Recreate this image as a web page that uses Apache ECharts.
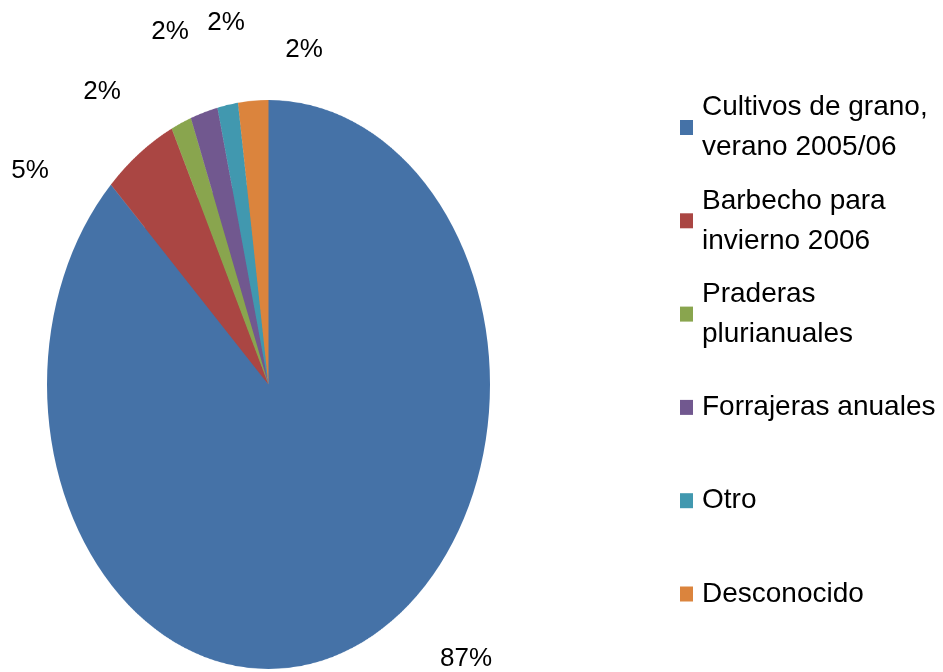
<!DOCTYPE html>
<html>
<head>
<meta charset="utf-8">
<script src="https://cdn.jsdelivr.net/npm/echarts@6/dist/echarts.min.js"></script>
<style>
html, body { margin: 0; padding: 0; background: #fff; }
#main { position: absolute; left: 0; top: 0; width: 943px; height: 672px; }
/* the excel pie is an ellipse, so the pie chart gets stretched vertically */
#pie { position: absolute; left: 47px; top: 163px; width: 443px; height: 443px;
       transform: scaleY(1.2844); transform-origin: 50% 50%; pointer-events: none; }
</style>
</head>
<body>
<div id="main"></div>
<div id="pie"></div>
<script>
var categories = ['Cultivos de grano,\nverano 2005/06', 'Barbecho para\ninvierno 2006', 'Praderas\nplurianuales', 'Forrajeras anuales', 'Otro', 'Desconocido'];
var values = [87.4, 5.4, 1.5, 2.0, 1.5, 2.2];
var colors = ['#4572A7', '#AA4643', '#89A54E', '#71588F', '#4198AF', '#DB843D'];
// centre of each percentage label, where excel left them
var labelSpots = [[466, 659], [30, 171], [102, 92], [170, 32], [226, 23], [304, 50]];

var FONT = "'Liberation Sans', Arial, sans-serif";
var LH = 40;

var pieData = categories.map(function (c, i) {
    return { name: c, value: values[i] };
});

// one legend per entry so multi-line names keep the square on the first line
var legends = categories.map(function (name, i) {
    var lines = name.split('\n').length;
    var boxH = (2 * lines - 1) * LH;
    return {
        orient: 'vertical',
        left: 680,
        top: 127.5 + i * 93.3 - boxH / 2,
        padding: 0,
        itemWidth: 13,
        itemHeight: 15,
        icon: 'rect',
        selectedMode: false,
        data: [{ name: name, textStyle: { padding: [(lines - 1) * LH, 0, 0, 4] } }],
        textStyle: { fontFamily: FONT, fontSize: 28, lineHeight: LH, color: '#000' }
    };
});

var myChart = echarts.init(document.getElementById('main'));
myChart.setOption({
    backgroundColor: '#fff',
    animation: false,
    color: colors,
    legend: legends,
    series: [{
        type: 'pie',
        center: [268.5, 384.5],
        radius: 200,
        startAngle: 90,
        clockwise: true,
        silent: true,
        data: pieData,
        label: {
            show: true,
            position: 'outside',
            fontFamily: FONT,
            fontSize: 26,
            width: 70,
            overflow: 'none',
            color: '#000',
            formatter: function (p) { return Math.round(p.percent) + '%'; }
        },
        labelLine: { show: false },
        labelLayout: function (p) {
            var s = labelSpots[p.dataIndex];
            return { x: s[0], y: s[1], align: 'center', verticalAlign: 'middle' };
        }
    }]
});

var pieChart = echarts.init(document.getElementById('pie'), null, { devicePixelRatio: 2 });
pieChart.setOption({
    animation: false,
    color: colors,
    series: [{
        type: 'pie',
        center: ['50%', '50%'],
        radius: '100%',
        startAngle: 90,
        clockwise: true,
        silent: true,
        label: { show: false },
        labelLine: { show: false },
        data: pieData
    }]
});
</script>
</body>
</html>
